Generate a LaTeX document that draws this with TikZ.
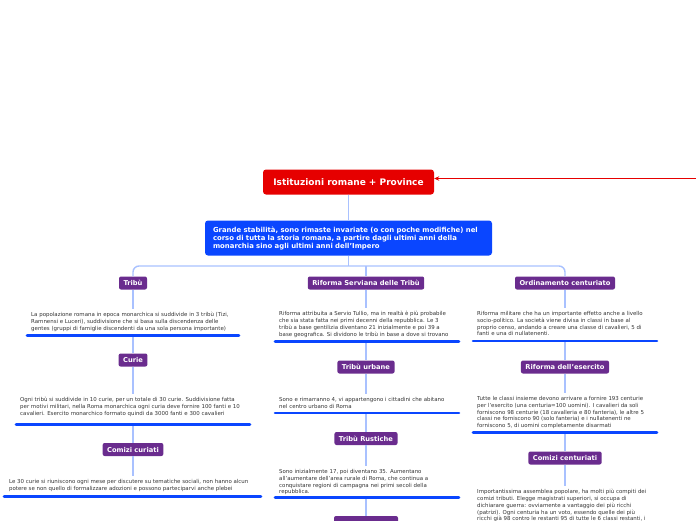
\documentclass[tikz,border=0pt]{standalone}
\usepackage{fontspec}
\setmainfont{DejaVu Sans}
\usetikzlibrary{calc,arrows.meta}
\definecolor{tred}{HTML}{E60000}
\definecolor{tblue}{HTML}{0A46FF}
\definecolor{tpurp}{HTML}{6A2C8E}
\definecolor{tconn}{HTML}{A9C1FF}
\definecolor{ttext}{HTML}{333333}
\definecolor{tline}{HTML}{0A46FF}
\begin{document}
\begin{tikzpicture}[x=1pt,y=-1pt,
  titlebox/.style={fill=tred,text=white,rounded corners=3pt,minimum width=171pt,minimum height=25pt,inner sep=0pt,font=\bfseries\fontsize{9}{10}\selectfont},
  mainbox/.style={fill=tblue,text=white,rounded corners=3pt,minimum width=287pt,minimum height=35pt,inner xsep=8pt,inner ysep=0pt,text width=271pt,align=left,font=\bfseries\fontsize{6.9}{8}\selectfont},
  topic/.style={fill=tpurp,text=white,rounded corners=2pt,minimum height=13pt,inner xsep=4.5pt,inner ysep=0pt,font=\bfseries\fontsize{6.7}{7}\selectfont},
  body/.style={anchor=north west,inner sep=0pt,align=left,text=ttext,font=\fontsize{5.45}{6.7}\selectfont},
  conn/.style={draw=tconn,line width=1.4pt},
  uline/.style={draw=tline,line width=2.6pt,line cap=round},
  redarrow/.style={draw=tred,line width=1pt,-{Stealth[length=5pt,width=4.5pt]}}
]
\useasboundingbox (0,0) rectangle (696,520);
\clip (0,0) rectangle (696,520);

% top
\node[titlebox] (title) at (348.5,182) {Istituzioni romane + Province};
\coordinate (arrstart) at (697,178.5);
\draw[redarrow] (arrstart) -- (arrstart -| title.east);

\node[mainbox] (main) at (348.5,238) {Grande stabilità, sono rimaste invariate (o con poche modifiche) nel\\corso di tutta la storia romana, a partire dagli ultimi anni della\\monarchia sino agli ultimi anni dell'Impero};
\draw[conn] (title.south) -- (main.north);

% topics
\node[topic] (tribu) at (133,283) {Tribù};
\node[topic] (serv) at (366,283) {Riforma Serviana delle Tribù};
\node[topic] (ord) at (565,283) {Ordinamento centuriato};

\coordinate (hub) at (348.5,266);
\draw[conn] (main.south) -- (hub);
\draw[conn,rounded corners=6pt] (tribu.north) |- (hub) -| (ord.north);
\draw[conn] (serv.north |- hub) -- (serv.north);

% ---------- left column
\node[body] (ttribu) at (31,312.4) {La popolazione romana in epoca monarchica si suddivide in 3 tribù (Tizi,\\Ramnensi e Luceri), suddivisione che si basa sulla discendenza delle\\gentes (gruppi di famiglie discendenti da una sola persona importante)};
\draw[conn] (tribu.south) -- ($(tribu.south |- ttribu.north)+(0,-3)$);
\coordinate (u1a) at (27,335.5); \coordinate (u1b) at (239,335.5);

\node[topic] (curie) at (133,360) {Curie};
\draw[conn] (curie.north |- u1a) -- (curie.north);
\draw[uline] (u1a) -- (u1b);
\node[body] (tcurie) at (20,397.4) {Ogni tribù si suddivide in 10 curie, per un totale di 30 curie. Suddivisione fatta\\per motivi militari, nella Roma monarchica ogni curia deve fornire 100 fanti e 10\\cavalieri. Esercito monarchico formato quindi da 3000 fanti e 300 cavalieri};
\draw[conn] (curie.south) -- ($(curie.south |- tcurie.north)+(0,-3)$);
\coordinate (u2a) at (16,424.5); \coordinate (u2b) at (250,424.5);

\node[topic] (ccur) at (133,449.5) {Comizi curiati};
\draw[conn] (ccur.north |- u2a) -- (ccur.north);
\draw[uline] (u2a) -- (u2b);
\node[body] (tccur) at (9,479.4) {Le 30 curie si riuniscono ogni mese per discutere su tematiche sociali, non hanno alcun\\potere se non quello di formalizzare adozioni e possono parteciparvi anche plebei};
\draw[conn] (ccur.south) -- ($(ccur.south |- tccur.north)+(0,-3)$);
\coordinate (u3a) at (4,496.5); \coordinate (u3b) at (261,496.5);
\draw[uline] (u3a) -- (u3b);

% ---------- middle column
\node[body] (tserv) at (279,311.4) {Riforma attribuita a Servio Tullio, ma in realtà è più probabile\\che sia stata fatta nei primi decenni della repubblica. Le 3\\tribù a base gentilizia diventano 21 inizialmente e poi 39 a\\base geografica. Si dividono le tribù in base a dove si trovano};
\draw[conn] (serv.south) -- ($(serv.south |- tserv.north)+(0,-3)$);
\coordinate (u4a) at (275,341.5); \coordinate (u4b) at (459,341.5);

\node[topic] (urb) at (366,367) {Tribù urbane};
\draw[conn] (urb.north |- u4a) -- (urb.north);
\draw[uline] (u4a) -- (u4b);
\node[body] (turb) at (279,397.4) {Sono e rimarranno 4, vi appartengono i cittadini che abitano\\nel centro urbano di Roma};
\draw[conn] (urb.south) -- ($(urb.south |- turb.north)+(0,-3)$);
\coordinate (u5a) at (275,413); \coordinate (u5b) at (459,413);

\node[topic] (rust) at (366,438.5) {Tribù Rustiche};
\draw[conn] (rust.north |- u5a) -- (rust.north);
\draw[uline] (u5a) -- (u5b);
\node[body] (trust) at (279,469.4) {Sono inizialmente 17, poi diventano 35. Aumentano\\all'aumentare dell'area rurale di Roma, che continua a\\conquistare regioni di campagna nei primi secoli della\\repubblica.};
\draw[conn] (rust.south) -- ($(rust.south |- trust.north)+(0,-3)$);
\coordinate (u6a) at (275,497.5); \coordinate (u6b) at (459,497.5);

\node[topic,minimum width=64pt] (next) at (366,522.5) {};
\draw[conn] (next.north |- u6a) -- (next.north);
\draw[uline] (u6a) -- (u6b);

% ---------- right column
\node[body] (tord) at (477,311.4) {Riforma militare che ha un importante effetto anche a livello\\socio-politico. La società viene divisa in classi in base al\\proprio censo, andando a creare una classe di cavalieri, 5 di\\fanti e una di nullatenenti.};
\draw[conn] (ord.south) -- ($(ord.south |- tord.north)+(0,-3)$);
\coordinate (u7a) at (473,341); \coordinate (u7b) at (657,341);

\node[topic] (eserc) at (565,367) {Riforma dell'esercito};
\draw[conn] (eserc.north |- u7a) -- (eserc.north);
\draw[uline] (u7a) -- (u7b);
\node[body] (teserc) at (477,396.4) {Tutte le classi insieme devono arrivare a fornire 193 centurie\\per l'esercito (una centuria=100 uomini). I cavalieri da soli\\forniscono 98 centurie (18 cavalleria e 80 fanteria), le altre 5\\classi ne forniscono 90 (solo fanteria) e i nullatenenti ne\\forniscono 5, di uomini completamente disarmati};
\draw[conn] (eserc.south) -- ($(eserc.south |- teserc.north)+(0,-3)$);
\coordinate (u8a) at (473,432.5); \coordinate (u8b) at (657,432.5);

\node[topic] (ccent) at (565,458) {Comizi centuriati};
\draw[conn] (ccent.north |- u8a) -- (ccent.north);
\draw[uline] (u8a) -- (u8b);
\node[body] (tccent) at (477,489.4) {Importantissima assemblea popolare, ha molti più compiti dei\\comizi tributi. Elegge magistrati superiori, si occupa di\\dichiarare guerra: ovviamente a vantaggio dei più ricchi\\(patrizi). Ogni centuria ha un voto, essendo quelle dei più\\ricchi già 98 contro le restanti 95 di tutte le 6 classi restanti, i};
\draw[conn] (ccent.south) -- ($(ccent.south |- tccent.north)+(0,-3)$);
\end{tikzpicture}
\end{document}
